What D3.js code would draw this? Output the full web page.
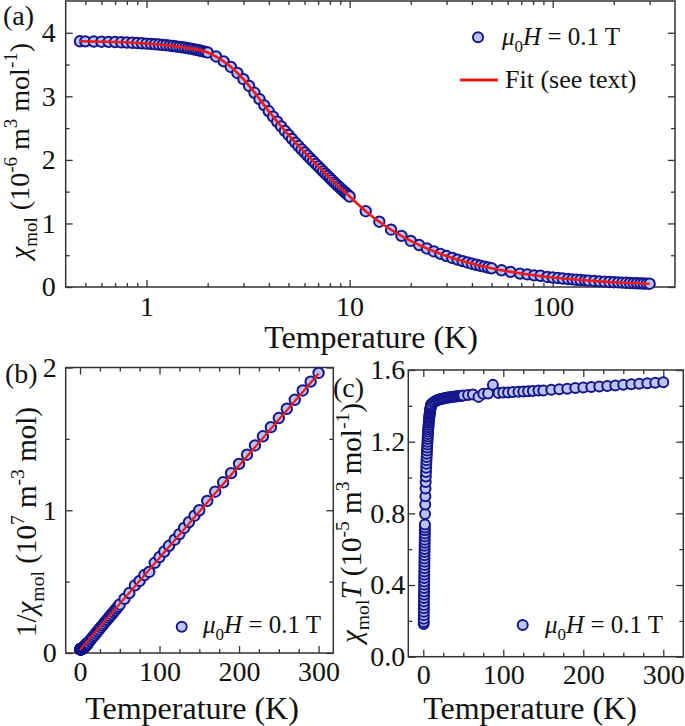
<!DOCTYPE html>
<html><head><meta charset="utf-8">
<script src="https://cdn.jsdelivr.net/npm/d3@7"></script>
<style>
body{margin:0;background:#fff}
svg{display:block}
svg text{font-family:'Liberation Serif','DejaVu Serif',serif !important}
</style>
</head><body>
<svg id="chart" width="685" height="726"></svg>
<script>
// ---------------- data ----------------
const temps = [
  0.47,0.5,0.55,0.6,0.65,0.7,0.75,0.8,0.85,0.9,0.95,1,1.05,1.1,1.15,1.2,1.25,1.3,1.35,1.4,1.45,1.5,1.55,1.6,1.65,1.7,1.75,1.8,1.85,1.9,1.95,2,
  2.2,2.4,2.6,2.8,3,3.2,3.4,3.6,3.8,4,4.2,4.4,4.6,4.8,5,5.2,5.4,5.6,5.8,6,6.2,6.4,6.6,6.8,7,7.2,7.4,7.6,7.8,8,8.2,8.4,8.6,8.8,9,9.2,9.4,9.6,9.8,10,
  12,14,16,18,20,22,24,26,28,30,32,34,36,38,40,42,44,46,48,50,
  56,62,69,75,81,87,94,100,106,112,119,125,131,137,144,150,
  160,170,180,190,200,210,220,230,240,250,260,270,280,290,300
];
// panel (a): chi_mol in 1e-6 m^3 mol^-1
const chiMol = [
  3.866,3.865,3.862,3.860,3.857,3.854,3.850,3.847,3.843,3.839,3.835,3.830,3.825,3.820,3.815,3.809,3.804,3.798,3.792,3.785,3.778,3.772,3.765,3.757,3.750,3.741,3.734,3.726,3.717,3.708,3.699,3.690,
  3.627,3.550,3.462,3.368,3.270,3.163,3.056,2.956,2.858,2.765,2.679,2.600,2.526,2.456,2.392,2.331,2.272,2.218,2.166,2.117,2.069,2.023,1.980,1.938,1.897,1.858,1.820,1.783,1.747,1.713,1.679,1.646,1.616,1.585,1.557,1.528,1.501,1.475,1.449,1.424,
  1.193,1.027,0.902,0.804,0.725,0.660,0.606,0.560,0.521,0.487,0.457,0.431,0.407,0.386,0.367,0.350,0.334,0.320,0.306,0.294,
  0.263,0.238,0.211,0.198,0.183,0.176,0.158,0.149,0.141,0.133,0.126,0.120,0.114,0.109,0.104,0.100,
  0.0941,0.0887,0.0839,0.0797,0.0759,0.0724,0.0692,0.0663,0.0637,0.0613,0.0590,0.0570,0.0550,0.0532,0.0516
];
// panel (b): 1/chi_mol in 1e7 m^-3 mol
const invChi = [
  0.0259,0.0259,0.0259,0.0259,0.0259,0.0259,0.0260,0.0260,0.0260,0.0260,0.0261,0.0261,0.0261,0.0262,0.0262,0.0263,0.0263,0.0263,0.0264,0.0264,0.0265,0.0265,0.0266,0.0266,0.0267,0.0267,0.0268,0.0268,0.0269,0.0270,0.0270,0.0271,
  0.0276,0.0282,0.0289,0.0297,0.0306,0.0316,0.0327,0.0338,0.0350,0.0362,0.0373,0.0385,0.0396,0.0407,0.0418,0.0429,0.0440,0.0451,0.0462,0.0472,0.0483,0.0494,0.0505,0.0516,0.0527,0.0538,0.0549,0.0561,0.0572,0.0584,0.0596,0.0608,0.0619,0.0631,0.0642,0.0654,0.0666,0.0678,0.0690,0.0702,
  0.0838,0.0974,0.111,0.124,0.138,0.152,0.165,0.179,0.192,0.205,0.219,0.232,0.246,0.259,0.272,0.286,0.299,0.313,0.326,0.340,
  0.380,0.420,0.474,0.505,0.546,0.568,0.632,0.672,0.711,0.751,0.794,0.833,0.876,0.917,0.962,1.000,
  1.065,1.130,1.196,1.260,1.325,1.389,1.454,1.518,1.582,1.646,1.711,1.774,1.839,1.901,1.962
];
// panel (c): chi_mol*T in 1e-5 m^3 K mol^-1
const chiT = [
  0.182,0.193,0.212,0.232,0.251,0.270,0.289,0.308,0.327,0.346,0.364,0.383,0.402,0.420,0.439,0.457,0.476,0.494,0.512,0.530,0.548,0.566,0.584,0.601,0.619,0.636,0.653,0.671,0.688,0.705,0.721,0.738,
  0.796,0.849,0.896,0.938,0.975,1.005,1.031,1.055,1.077,1.096,1.115,1.133,1.151,1.168,1.184,1.200,1.215,1.229,1.243,1.257,1.269,1.281,1.293,1.304,1.314,1.324,1.333,1.341,1.349,1.356,1.363,1.369,1.375,1.381,1.386,1.391,1.396,1.401,1.405,1.409,
  1.417,1.423,1.428,1.432,1.435,1.438,1.440,1.442,1.444,1.446,1.447,1.449,1.450,1.451,1.452,1.453,1.454,1.455,1.456,1.457,
  1.460,1.463,1.450,1.467,1.469,1.517,1.472,1.474,1.475,1.477,1.479,1.480,1.482,1.483,1.485,1.486,
  1.490,1.493,1.496,1.499,1.502,1.505,1.508,1.511,1.514,1.517,1.520,1.523,1.526,1.529,1.532
];
// fit curves
const fitTempsA = [0.47,0.7,1,1.5,2,2.5,3,3.5,4,5,6,7,8,10,12,15,20,30,50,70,100,150,200,300];
const fitChiA   = [3.866,3.854,3.830,3.772,3.690,3.510,3.270,3.010,2.765,2.392,2.117,1.897,1.713,1.424,1.193,0.960,0.725,0.487,0.294,0.212,0.149,0.100,0.0759,0.0516];
const fitTempsB = [0, 300];
const fitInvB   = [0.022, 1.958];

// ticks
const xMajorA = [1,10,100], xLabelsA = ["1","10","100"];
const xMinorA = [0.5,0.6,0.7,0.8,0.9,2,3,4,5,6,7,8,9,20,30,40,50,60,70,80,90,200,300];
const yMajorA = [0,1,2,3,4], yMinorA = [0.5,1.5,2.5,3.5];
const xMajorBC = [0,100,200,300], xMinorBC = [25,50,75,125,150,175,225,250,275];
const yMajorB = [0,1,2], yMinorB = [0.5,1.5];
const yMajorC = [0,0.4,0.8,1.2,1.6], yMinorC = [0.2,0.6,1.0,1.4];

// ---------------- drawing ----------------
const FONT = "Liberation Serif";
const NAVY = "#14168a", FILL = "#bcc4f4", RED = "#ee1a1a", AXC = "#333";
const svg = d3.select("#chart");

const boxA = {l:65.7, t:1, r:675, b:287};
const boxB = {l:65.7, t:367.5, r:333.3, b:653};
const boxC = {l:408.3, t:370, r:683.3, b:656.7};

const xA = d3.scaleLog().domain([0.4,400]).range([boxA.l, boxA.r]);
const yA = d3.scaleLinear().domain([0,4.5]).range([boxA.b, boxA.t]);
const xB = d3.scaleLinear().domain([-18,318.5]).range([boxB.l, boxB.r]);
const yB = d3.scaleLinear().domain([0,2]).range([boxB.b, boxB.t]);
const xC = d3.scaleLinear().domain([-18.75,325]).range([boxC.l, boxC.r]);
const yC = d3.scaleLinear().domain([0,1.6]).range([boxC.b, boxC.t]);

function axes(x, y, box, o) {
  const g = svg.append("g");
  const MJ = 7, MN = 4;
  const add = (axis, tr) => g.append("g").attr("transform", tr).call(axis);
  add(d3.axisBottom(x).tickValues(o.xMaj).tickSizeInner(-MJ).tickSizeOuter(0).tickPadding(o.xPad).tickFormat(o.xFmt), `translate(0,${box.b})`);
  add(d3.axisBottom(x).tickValues(o.xMin).tickSizeInner(-MN).tickSizeOuter(0).tickFormat(""), `translate(0,${box.b})`);
  add(d3.axisTop(x).tickValues(o.xMaj).tickSizeInner(-MJ).tickSizeOuter(0).tickFormat(""), `translate(0,${box.t})`);
  add(d3.axisTop(x).tickValues(o.xMin).tickSizeInner(-MN).tickSizeOuter(0).tickFormat(""), `translate(0,${box.t})`);
  add(d3.axisLeft(y).tickValues(o.yMaj).tickSizeInner(-MJ).tickSizeOuter(0).tickPadding(o.yPad).tickFormat(o.yFmt), `translate(${box.l},0)`);
  add(d3.axisLeft(y).tickValues(o.yMin).tickSizeInner(-MN).tickSizeOuter(0).tickFormat(""), `translate(${box.l},0)`);
  add(d3.axisRight(y).tickValues(o.yMaj).tickSizeInner(-MJ).tickSizeOuter(0).tickFormat(""), `translate(${box.r},0)`);
  add(d3.axisRight(y).tickValues(o.yMin).tickSizeInner(-MN).tickSizeOuter(0).tickFormat(""), `translate(${box.r},0)`);
  g.selectAll(".domain").remove();
  g.selectAll("g").attr("font-family", FONT).attr("font-size", 28);
  g.selectAll(".tick line").attr("stroke", AXC).attr("stroke-width", 1.3);
  g.selectAll(".tick text").attr("fill", "#111");
  svg.append("rect").attr("x", box.l).attr("y", box.t)
    .attr("width", box.r - box.l).attr("height", box.b - box.t)
    .attr("fill", "none").attr("stroke", AXC).attr("stroke-width", 1.5);
}

function rich(sel, segs, size) {
  let cur = 0;
  segs.forEach(s => {
    const small = s.sub || s.sup;
    const target = s.sub ? size * 0.28 : s.sup ? -size * 0.42 : 0;
    const ts = sel.append("tspan").text(s.t)
      .attr("font-size", small ? size * 0.68 : size)
      .attr("dy", target - cur);
    if (s.it) ts.attr("font-style", "italic");
    cur = target;
  });
}
function label(x, y, segs, size, rotate, anchor) {
  const t = svg.append("text").attr("font-family", FONT).attr("fill", "#111")
    .attr("text-anchor", anchor || "start")
    .attr("transform", `translate(${x},${y})` + (rotate ? " rotate(-90)" : ""));
  rich(t, segs, size);
  return t;
}
const muH = [{t:"μ", it:true},{t:"0", sub:true},{t:"H", it:true},{t:" = 0.1 T"}];

function points(x, y, xs, ys, r) {
  svg.append("g").selectAll("circle").data(xs.map((d, i) => [d, ys[i]])).join("circle")
    .attr("cx", d => x(d[0])).attr("cy", d => y(d[1])).attr("r", r)
    .attr("fill", FILL).attr("stroke", NAVY).attr("stroke-width", 2);
}

// ----- panel (a)
axes(xA, yA, boxA, {xMaj:xMajorA, xMin:xMinorA, yMaj:yMajorA, yMin:yMinorA,
  xFmt:(d,i)=>xLabelsA[i], yFmt:d3.format("d"), xPad:9, yPad:10});
points(xA, yA, temps, chiMol, 5.2);
svg.append("path")
  .datum(fitTempsA.map((d,i)=>[d, fitChiA[i]]))
  .attr("d", d3.line().x(d=>xA(d[0])).y(d=>yA(d[1])).curve(d3.curveMonotoneX))
  .attr("fill","none").attr("stroke",RED).attr("stroke-width",2.6);
// legend (a)
svg.append("circle").attr("cx",478).attr("cy",37.3).attr("r",5).attr("fill",FILL).attr("stroke",NAVY).attr("stroke-width",2);
label(502, 45, muH, 25);
svg.append("line").attr("x1",460).attr("x2",498).attr("y1",80).attr("y2",80).attr("stroke",RED).attr("stroke-width",3);
label(505, 87.5, [{t:"Fit (see text)"}], 26);
// titles (a)
label(371, 348, [{t:"Temperature (K)"}], 32, false, "middle");
label(29, 151, [{t:"χ", it:true},{t:"mol", sub:true},{t:" (10"},{t:"-6", sup:true},{t:" m"},{t:"3", sup:true},{t:" mol"},{t:"-1", sup:true},{t:")"}], 28, true, "middle");
label(3, 25, [{t:"(a)"}], 28);

// ----- panel (b)
axes(xB, yB, boxB, {xMaj:xMajorBC, xMin:xMinorBC, yMaj:yMajorB, yMin:yMinorB,
  xFmt:d3.format("d"), yFmt:d3.format("d"), xPad:8, yPad:9});
points(xB, yB, temps, invChi, 5.2);
svg.append("path")
  .datum(fitTempsB.map((d,i)=>[d, fitInvB[i]]))
  .attr("d", d3.line().x(d=>xB(d[0])).y(d=>yB(d[1])))
  .attr("fill","none").attr("stroke",RED).attr("stroke-width",2.2);
svg.append("circle").attr("cx",181.7).attr("cy",626.7).attr("r",5).attr("fill",FILL).attr("stroke",NAVY).attr("stroke-width",2);
label(203, 633, muH, 25);
label(192, 719, [{t:"Temperature (K)"}], 32, false, "middle");
label(36, 522, [{t:"1/"},{t:"χ", it:true},{t:"mol", sub:true},{t:" (10"},{t:"7", sup:true},{t:" m"},{t:"-3", sup:true},{t:" mol)"}], 29, true, "middle");
label(5, 383, [{t:"(b)"}], 28);

// ----- panel (c)
axes(xC, yC, boxC, {xMaj:xMajorBC, xMin:xMinorBC, yMaj:yMajorC, yMin:yMinorC,
  xFmt:d3.format("d"), yFmt:d3.format(".1f"), xPad:7, yPad:3});
points(xC, yC, temps, chiT, 5);
svg.append("circle").attr("cx",522.7).attr("cy",625).attr("r",5).attr("fill",FILL).attr("stroke",NAVY).attr("stroke-width",2);
label(545, 633, muH, 25);
label(530, 719, [{t:"Temperature (K)"}], 32, false, "middle");
label(361, 523, [{t:"χ", it:true},{t:"mol", sub:true},{t:"T", it:true},{t:" (10"},{t:"-5", sup:true},{t:" m"},{t:"3", sup:true},{t:" mol"},{t:"-1", sup:true},{t:")"}], 29, true, "middle");
label(333, 397, [{t:"(c)"}], 28);
</script>
</body></html>
